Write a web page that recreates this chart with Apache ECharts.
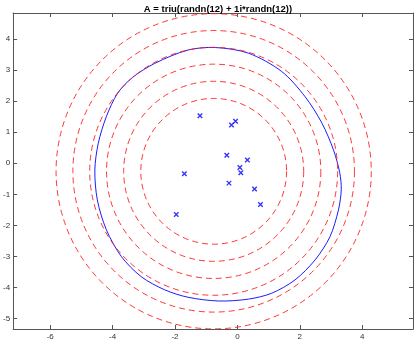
<!DOCTYPE html>
<html>
<head>
<meta charset="utf-8">
<script src="https://cdn.jsdelivr.net/npm/echarts@6/dist/echarts.min.js"></script>
<style>
html, body { margin: 0; padding: 0; background: #fff; }
#main { width: 415px; height: 343px; }
</style>
</head>
<body>
<div id="main"></div>
<script>
// circles around the eigenvalues (dashed red)
const circleCenter = [-0.76, -0.26];
const circleRadii = [2.34, 2.89, 3.44, 3.98, 4.52, 5.06];

// blue boundary curve (closed loop)
const curveX = [-0.71, -1.58, -2.65, -3.36, -3.84, -4.20, -4.46, -4.57, -4.49, -4.20, -3.72, -3.08, -2.33, -1.58, -0.60,
    0.35, 1.10, 1.85, 2.49, 2.97, 3.24, 3.33, 3.28, 3.08, 2.71, 2.17, 1.42, 0.35];
const curveY = [3.72, 3.64, 3.21, 2.76, 2.25, 1.50, 0.64, -0.22, -1.18, -2.14, -3.00, -3.65, -4.07, -4.31, -4.43,
    -4.37, -4.18, -3.75, -3.11, -2.36, -1.50, -0.85, -0.30, 0.43, 1.29, 2.14, 2.95, 3.54];

// eigenvalues
const eigRe = [-1.20, -0.06, -0.19, -0.34, 0.32, 0.08, 0.11, -1.70, -0.27, 0.55, 0.74, -1.96];
const eigIm = [1.53, 1.35, 1.23, 0.26, 0.10, -0.14, -0.31, -0.34, -0.64, -0.83, -1.33, -1.65];

const xTicks = [-6, -4, -2, 0, 2, 4];
const yTicks = [-5, -4, -3, -2, -1, 0, 1, 2, 3, 4];

const xMin = -7.19, xMax = 5.63;
const yMin = -5.33, yMax = 4.83;

var myChart = echarts.init(document.getElementById('main'), null, {renderer: 'canvas'});

const axisCol = '#555';
function xAx(pos, labels) {
    return {
        type: 'value', position: pos, min: xMin, max: xMax,
        axisLine: {show: true, onZero: false, lineStyle: {color: axisCol, width: 1}},
        axisTick: {show: true, inside: true, length: 4, customValues: xTicks, lineStyle: {color: axisCol}},
        axisLabel: {show: labels, customValues: xTicks, fontSize: 8, color: '#333', margin: 4,
            fontFamily: 'Liberation Sans, Arial, sans-serif'},
        splitLine: {show: false}
    };
}
function yAx(pos, labels) {
    return {
        type: 'value', position: pos, min: yMin, max: yMax,
        axisLine: {show: true, onZero: false, lineStyle: {color: axisCol, width: 1}},
        axisTick: {show: true, inside: true, length: 4, customValues: yTicks, lineStyle: {color: axisCol}},
        axisLabel: {show: labels, customValues: yTicks, fontSize: 8, color: '#333', margin: 3,
            fontFamily: 'Liberation Sans, Arial, sans-serif'},
        splitLine: {show: false}
    };
}

var option = {
    animation: false,
    title: {
        text: 'A = triu(randn(12) + 1i*randn(12))',
        left: 213, top: -1, textAlign: 'center',
        textStyle: {fontSize: 9.5, fontWeight: 'bold', color: '#000', fontFamily: 'Liberation Sans, Arial, sans-serif'}
    },
    grid: {left: 13, right: 2, top: 13, bottom: 14, containLabel: false},
    xAxis: [xAx('bottom', true), xAx('top', false)],
    yAxis: [yAx('left', true), yAx('right', false)],
    series: [
        {
            // whole closed curve drawn as one smoothed polygon
            type: 'custom',
            clip: true,
            data: [[curveX[0], curveY[0]]],
            encode: {x: 0, y: 1},
            renderItem: function (params, api) {
                const pts = curveX.map((x, i) => api.coord([x, curveY[i]]));
                return {
                    type: 'polygon',
                    shape: {points: pts, smooth: 0.3},
                    style: {fill: 'none', stroke: '#0000ff', lineWidth: 0.9}
                };
            },
            z: 2
        },
        {
            type: 'custom',
            clip: true,
            data: circleRadii.map(r => [circleCenter[0], circleCenter[1], r]),
            encode: {x: 0, y: 1},
            renderItem: function (params, api) {
                const c = api.coord([api.value(0), api.value(1)]);
                const s = api.size([api.value(2), api.value(2)]);
                return {
                    type: 'circle',
                    shape: {cx: c[0], cy: c[1], r: (s[0] + s[1]) / 2},
                    style: {fill: 'none', stroke: '#ff2020', lineWidth: 0.9, lineDash: [6, 4]}
                };
            },
            z: 3
        },
        {
            type: 'scatter',
            data: eigRe.map((x, i) => [x, eigIm[i]]),
            symbol: 'path://M0,0L10,10M10,0L0,10',
            symbolSize: 4.5,
            itemStyle: {color: 'none', borderColor: '#0000ff', borderWidth: 1.4},
            z: 4
        }
    ]
};
myChart.setOption(option);
</script>
</body>
</html>
